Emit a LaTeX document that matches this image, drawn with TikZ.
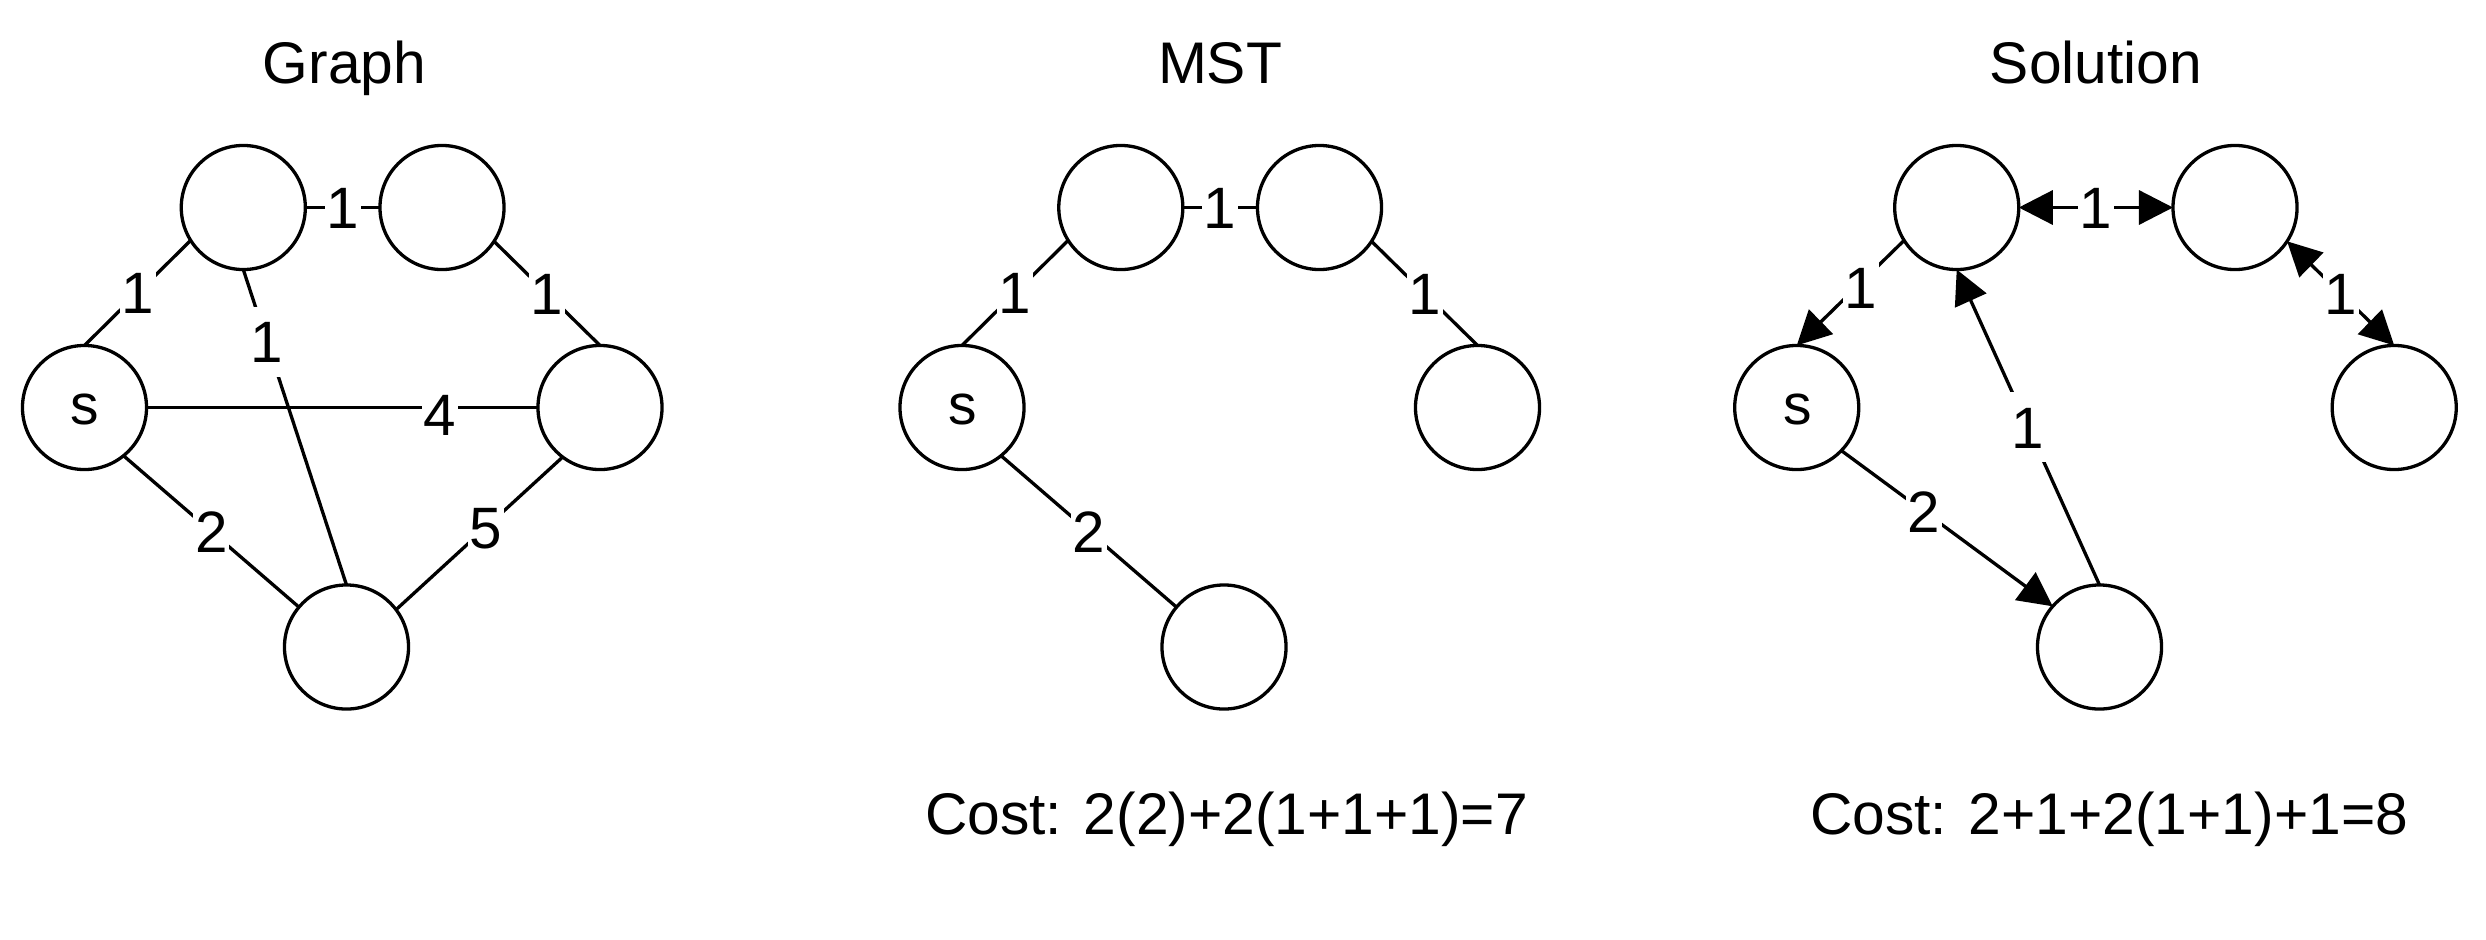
\documentclass[tikz,border=0pt]{standalone}
\usepackage{fontspec}
\setmainfont{Liberation Sans}
\usetikzlibrary{arrows.meta}
\begin{document}
\begin{tikzpicture}[x=0.01cm,y=-0.01cm,
  vtx/.style={circle,draw,line width=0.94pt,minimum size=1.24cm,inner sep=0pt,outer sep=0pt},
  lnk/.style={line width=0.94pt},
  lbl/.style={fill=white,inner xsep=0.5pt,inner ysep=0pt,text height=15.8pt,text depth=4pt,font=\fontsize{16.6pt}{19.5pt}\selectfont},
  ttl/.style={anchor=base,inner sep=0pt,font=\fontsize{16.7pt}{20pt}\selectfont},
  stxt/.style={anchor=base,inner sep=0pt,font=\fontsize{16.2pt}{19pt}\selectfont},
  tip/.style={-{Triangle[length=0.34cm,width=0.34cm]}},
  tips/.style={{Triangle[length=0.34cm,width=0.34cm]}-{Triangle[length=0.34cm,width=0.34cm]}}
]
\useasboundingbox[fill=white] (0,0) rectangle (2486,939);

% ---------- titles ----------
\node[ttl] (t1) at (344.5,83) {Graph};
\node[ttl] (t2) at (1220,83) {MST};
\node[ttl] (t3) at (2096,83) {Solution};

% ---------- Graph ----------
\node[vtx] (gs) at (84.5,407.5) {};
\node[vtx] (gA) at (243.3,207.5) {};
\node[vtx] (gB) at (442,207.5) {};
\node[vtx] (gC) at (600,407.5) {};
\node[vtx] (gD) at (346.5,647) {};
\node[stxt] (gst) at (85,424) {s};

\draw[lnk] (gs.north) -- node[lbl] {1} (gA.212);
\draw[lnk] (gA.east) -- node[lbl] {1} (gB.west);
\draw[lnk] (gB.-33) -- node[lbl] {1} (gC.north);
\draw[lnk] (gA.south) -- node[lbl,pos=0.23] {1} (gD.north);
\draw[lnk] (gs.east) -- node[lbl,pos=0.75,yshift=-0.07cm] {4} (gC.west);
\draw[lnk] (gs.-51) -- node[lbl] {2} (gD.140);
\draw[lnk] (gC.233) -- node[lbl,pos=0.46] {5} (gD.37);

% ---------- MST ----------
\node[vtx] (ms) at (962,407.5) {};
\node[vtx] (mA) at (1120.8,207.5) {};
\node[vtx] (mB) at (1319.5,207.5) {};
\node[vtx] (mC) at (1477.5,407.5) {};
\node[vtx] (mD) at (1224,647) {};
\node[stxt] (mst) at (962.5,424) {s};

\draw[lnk] (ms.north) -- node[lbl] {1} (mA.212);
\draw[lnk] (mA.east) -- node[lbl] {1} (mB.west);
\draw[lnk] (mB.-33) -- node[lbl] {1} (mC.north);
\draw[lnk] (ms.-51) -- node[lbl] {2} (mD.140);

\node[ttl] (c1) at (1226.5,834) {Cost: 2(2)+2(1+1+1)=7};

% ---------- Solution ----------
\node[vtx] (os) at (1796.7,407.5) {};
\node[vtx] (oA) at (1956.7,207.5) {};
\node[vtx] (oB) at (2235,207.5) {};
\node[vtx] (oC) at (2394.2,407.5) {};
\node[vtx] (oD) at (2099.5,647) {};
\node[stxt] (ost) at (1797.5,424) {s};

\draw[lnk,tip] (oA.212) -- node[lbl,pos=0.4,yshift=-0.05cm] {1} (os.north);
\draw[lnk,tips] (oA.east) -- node[lbl] {1} (oB.west);
\draw[lnk,tips] (oB.-33) -- node[lbl] {1} (oC.north);
\draw[lnk,tip] (os.-44) -- node[lbl,pos=0.39] {2} (oD.139.4);
\draw[lnk,tip] (oD.north) -- node[lbl] {1} (oA.south);

\node[ttl] (c2) at (2109,834) {Cost: 2+1+2(1+1)+1=8};
\end{tikzpicture}
\end{document}
